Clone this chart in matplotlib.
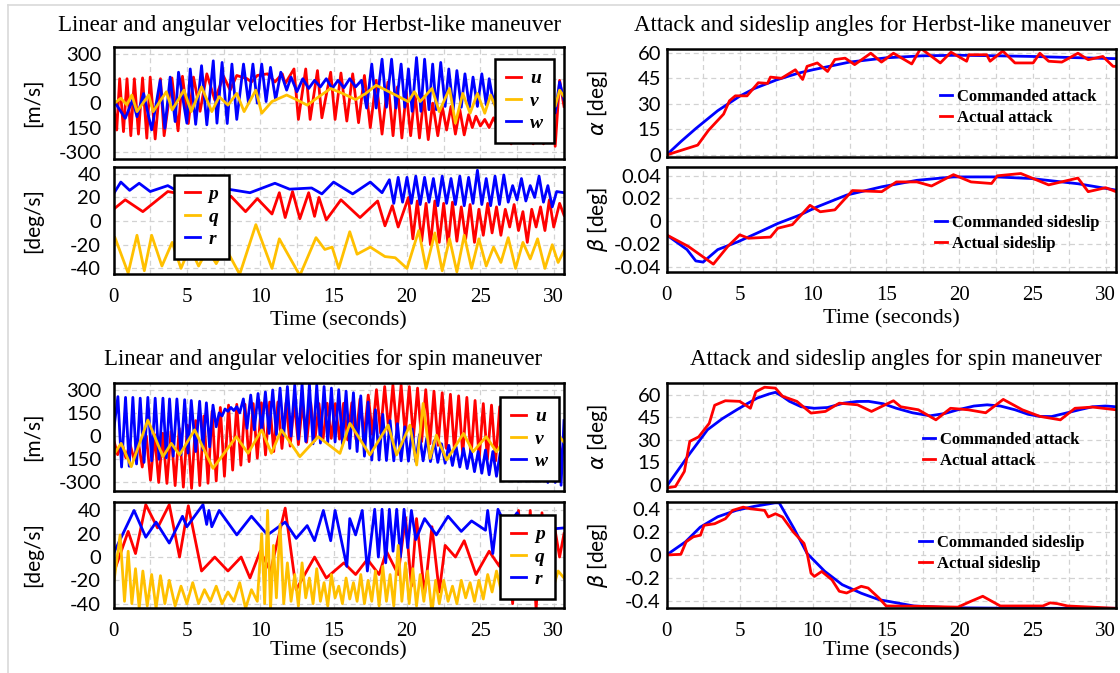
import matplotlib
matplotlib.use('Agg')
import matplotlib.pyplot as plt
from matplotlib.ticker import MultipleLocator
from matplotlib.lines import Line2D

# ---------------- Herbst-like maneuver: linear velocities [m/s] ----------------
U_H_T = [0, 0.22, 0.42, 0.68, 0.92, 1.18, 1.42, 1.7, 1.98, 2.27, 2.5, 2.84, 3.2, 3.45, 3.98, 4.4, 4.7, 5.1, 5.45, 5.9,
         6.36, 6.9, 7.5, 7.95, 8.4, 9.1, 9.4, 9.8, 10.5, 11.0, 11.5, 11.7, 12.3, 12.6, 13.1, 13.4, 13.9, 14.2, 14.8, 15.1,
         15.5, 15.9, 16.3, 16.7, 17.1, 17.5, 17.9, 18.3, 18.7, 19.05, 19.35, 19.65, 19.95, 20.25, 20.55, 20.85, 21.15,
         21.45, 21.75, 22.1, 22.4, 22.7, 23.0, 23.3, 23.6, 23.9, 24.2, 24.45, 24.7, 25.0, 25.3, 25.6, 25.9, 26.3, 26.7,
         27.1, 27.5, 28.0, 28.3, 28.6, 28.9, 29.3, 29.8, 30.1, 30.4, 30.7]
U_H_V = [0, -165, 150, -175, 150, -200, 150, -190, 155, -215, 160, -220, 150, -200, 155, -170, 165, -125, 160, -50,
         180, 20, 165, 80, 170, 150, 130, 170, 180, 130, 180, 120, 210, -100, 210, -100, 200, -90, 190, -100,
         185, -110, 180, -120, 170, -150, 140, -190, 130, -200, 100, -214, 70, -200, 60, -214, 40,
         -224, 0, -200, -20, -165, -20, -190, -40, -195, -70, -150, -80, -140, -100, -150, -90, -165, -60,
         -250, -40, -220, -60, -250, -60, -250, 30, -265, 140, -20]

V_H_T = [0, 0.5, 0.9, 1.25, 1.6, 2.4, 2.7, 3.6, 4.0, 4.8, 5.3, 6.0, 6.7, 7.2, 7.8, 8.4, 8.9, 9.7, 10.1, 10.8, 11.8,
         12.5, 13.2, 14.0, 14.8, 15.6, 16.5, 17.2, 17.9, 19.0, 20.1, 20.5, 20.9, 21.7, 22.2, 22.9, 23.3, 23.8, 24.3,
         24.8, 25.3, 25.7, 26.2, 26.7, 27.2, 27.7, 28.2, 28.7, 29.2, 29.7, 30.1, 30.4, 30.7]
V_H_V = [-5, 30, -10, 50, -52, 50, -52, 70, -42, 80, -52, 100, -52, 40, -12, 60, -52, 80, -62, 10, 50,
         20, -12, 40, 90, 60, 22, 60, 110, 60, 9, 70, 10, 90, -52, 90, -123, 60, -62,
         60, -62, 50, -60, 50, -60, 50, -60, 50, -60, 40, -20, 80, 40]

W_H_T = [0, 0.8, 1.3, 1.6, 2.05, 2.6, 3.18, 3.5, 3.86, 4.2, 4.43, 5.0, 5.23, 5.6, 6.0, 6.36, 6.8, 7.05, 7.4, 7.75,
         8.07, 8.4, 8.86, 9.2, 9.5, 9.8, 10.1, 10.4, 10.7, 11.05, 11.4, 11.8, 12.1, 12.5, 12.9, 13.3, 13.7, 14.1, 14.5,
         14.9, 15.3, 15.7, 16.1, 16.5, 16.9, 17.25, 17.6, 17.9, 18.3, 18.6, 18.95, 19.25, 19.6, 19.85, 20.1, 20.35,
         20.65, 20.95, 21.2, 21.5, 21.75, 22.0, 22.3, 22.6, 22.85, 23.15, 23.4, 23.7, 23.95, 24.25, 24.5, 24.8, 25.1,
         25.4, 25.6, 25.9, 26.2, 26.5, 26.8, 27.1, 27.4, 27.7, 28.0, 28.3, 28.6, 28.9, 29.2, 29.5, 29.8, 30.1, 30.4, 30.7]
W_H_V = [18, -93, 20, -83, 59, -164, 139, -154, 160, -113, 190, -123, 210, -130, 230, -133, 260, -123, 250, -125,
         240, -100, 240, 0, 240, 0, 240, 10, 220, 20, 190, 80, 160, 70, 150, 90, 140, 100, 150,
         90, 140, 95, 150, 100, 140, -30, 240, -30, 270, -25, 270, -30, 240, -25, 210, -50,
         280, -50, 270, -40, 240, -40, 250, -20, 210, -40, 200, -25, 180, -25, 160, -20, 180,
         -10, 150, 0, 130, 10, 120, 0, 130, -10, 120, 0, 110, -20, 100, -30, 100, -60, 130, 20]

# ---------------- Herbst-like maneuver: angular velocities [deg/s] ----------------
P_H_T = [0, 0.8, 2.0, 3.7, 5.0, 6.0, 7.0, 8.0, 9.0, 9.8, 10.8, 11.3, 11.7, 12.2, 12.7, 13.3, 13.7, 14.0, 14.5, 15.5,
         16.8, 18.0, 18.5, 19.0, 19.4, 20.1, 20.4, 20.7, 21.0, 21.3, 21.6, 21.9, 22.2, 22.5, 22.8, 23.1, 23.4, 23.7,
         24.0, 24.3, 24.6, 24.9, 25.2, 25.5, 25.8, 26.1, 26.4, 26.7, 27.0, 27.3, 27.6, 27.9, 28.2, 28.5, 28.8, 29.1,
         29.4, 29.7, 30.0, 30.4, 30.7]
P_H_V = [10, 18, 8, 25, 22, 18, 15, 21, 8, 19, 6, 24, 3, 25, 2, 24, 4, 20, 1, 18,
         3, 17, -4, 13, -5, 20, -15, 17, -17, 15, -20, 17, -18, 15, -20, 16, -17, 12,
         -15, 14, -18, 10, -12, 15, -10, 12, -12, 10, -5, 14, -8, 8, -18, 10, -5, 12,
         -8, 18, -5, 15, 5]

Q_H_T = [0.1, 1.0, 1.6, 2.1, 2.6, 3.3, 4.0, 4.6, 5.2, 5.8, 6.4, 7.0, 7.6, 8.6, 9.7, 10.8, 11.3, 11.7, 12.7, 13.8,
         14.4, 14.9, 15.35, 16.1, 16.6, 17.5, 18.5, 19.2, 20.0, 20.8, 21.3, 21.9, 22.4, 22.9, 23.4, 23.9, 24.4, 24.9,
         25.4, 25.9, 26.4, 26.9, 27.4, 27.9, 28.4, 28.9, 29.4, 29.9, 30.3, 30.7]
Q_H_V = [-14, -44, -12, -42, -12, -38, -18, -40, -22, -38, -24, -36, -22, -45, -3, -40, -15, -24, -46, -14,
         -24, -22, -40, -9, -28, -22, -30, -31, -40, -8, -40, -10, -42, -15, -43, -12, -40, -15,
         -38, -22, -35, -14, -40, -18, -32, -15, -40, -20, -35, -25]

R_H_T = [0, 0.5, 1.1, 1.75, 2.5, 3.7, 4.4, 5.5, 6.1, 7.0, 7.8, 9.3, 11.0, 12.0, 13.5, 14.2, 15.0, 16.3, 17.5, 18.3,
         18.8, 19.1, 19.4, 19.7, 20.0, 20.3, 20.6, 20.9, 21.2, 21.5, 21.8, 22.1, 22.4, 22.7, 23.0, 23.3, 23.6, 23.9,
         24.2, 24.5, 24.8, 25.1, 25.4, 25.7, 26.0, 26.3, 26.6, 26.9, 27.2, 27.5, 27.8, 28.1, 28.4, 28.7, 29.0, 29.3,
         29.6, 29.9, 30.2, 30.7]
R_H_V = [23, 33, 26, 32, 25, 30, 25, 32, 35, 28, 27, 24, 32, 27, 28, 23, 33, 23, 33, 24,
         35, 15, 37, 16, 37, 15, 38, 14, 37, 16, 36, 13, 38, 15, 36, 14, 38, 13,
         37, 15, 43, 14, 36, 13, 38, 14, 39, 16, 30, 18, 36, 17, 30, 20, 38, 16,
         30, 12, 25, 24]

# ---------------- Herbst-like maneuver: attack / sideslip [deg] ----------------
ALC_H_T = [0, 1, 2, 2.5, 3.5, 5, 6, 7.5, 9, 10, 12.5, 15, 17.5, 20, 22.5, 25, 27.5, 30.7]
ALC_H_V = [0, 8, 15.5, 19, 26, 34.5, 39, 44, 48, 50, 54.5, 57, 58.2, 58.5, 58.2, 57.8, 57.2, 56.5]
ALA_H_T = [0, 2.13, 2.87, 3.9, 4.3, 4.7, 5.5, 6.27, 6.9, 7.1, 7.85, 8.8, 9.3, 9.6, 10.3, 11.0, 11.5, 12.2, 12.85,
           13.95, 14.68, 15.5, 16.75, 17.36, 18.7, 19.43, 20.5, 20.65, 21.87, 22.1, 22.97, 23.8, 25.04, 25.5, 26.1,
           27.0, 28.1, 28.8, 29.8, 30.5, 30.7]
ALA_H_V = [0, 5.8, 14.5, 24, 31.8, 34.7, 34.7, 42.4, 42, 45.7, 45, 50, 44.3, 52, 54, 49, 56, 56.8, 53,
           59.7, 54.5, 59.7, 53.4, 62.6, 54, 60.3, 55, 58.8, 58.8, 55, 61, 54, 54, 59.7, 55,
           54.5, 59.7, 55.9, 57.8, 52, 52]
BEC_H_T = [0, 1.4, 2.0, 2.5, 3.5, 4.9, 6.4, 7.6, 9.1, 10.3, 12.3, 14.7, 17.1, 19.6, 22.5, 24.9, 28.1, 30.7]
BEC_H_V = [-0.012, -0.025, -0.035, -0.036, -0.025, -0.018, -0.0092, -0.002, 0.0054, 0.0127, 0.023, 0.0303, 0.036,
           0.039, 0.039, 0.0376, 0.033, 0.0274]
BEA_H_T = [0, 1.5, 3.2, 4.2, 5.0, 5.6, 7.1, 7.6, 8.6, 9.8, 10.5, 11.5, 12.7, 14.7, 15.7, 17.1, 18.1, 19.6, 20.8, 22.2,
           22.6, 24.2, 26.1, 28.1, 28.8, 30.0, 30.7]
BEA_H_V = [-0.012, -0.0223, -0.0378, -0.022, -0.012, -0.015, -0.014, -0.0062, -0.003, 0.014, 0.0083, 0.01, 0.027,
           0.026, 0.0346, 0.0346, 0.031, 0.041, 0.0346, 0.0332, 0.040, 0.042, 0.032, 0.038, 0.026, 0.0295, 0.026]

# ---------------- Spin maneuver: linear velocities [m/s] ----------------
U_S_T = [0, 0.28, 0.56, 0.84, 1.12, 1.4, 1.68, 1.96, 2.24, 2.52, 2.8, 3.08, 3.36, 3.64, 3.92, 4.2, 4.48, 4.76, 5.04,
         5.32, 5.6, 5.88, 6.16, 6.44, 6.72, 7.0, 7.28, 7.56, 7.84, 8.12, 8.4, 8.68, 8.96, 9.24, 9.52, 9.8, 10.08,
         10.36, 10.64, 10.92, 11.2, 11.48, 11.76, 12.04, 12.32, 12.6, 12.88, 13.16, 13.44, 13.72, 14.0, 14.28, 14.56,
         14.84, 15.12, 15.4, 15.68, 15.96, 16.24, 16.52, 16.8, 17.08, 17.36, 17.64, 17.92, 18.2, 18.48, 18.76, 19.04,
         19.32, 19.6, 19.88, 20.16, 20.44, 20.72, 21.0, 21.28, 21.56, 21.84, 22.12, 22.4, 22.68, 22.96, 23.24, 23.52,
         23.8, 24.08, 24.36, 24.64, 24.92, 25.2, 25.48, 25.76, 26.04, 26.32, 26.6, 26.88, 27.16, 27.44, 27.72, 28.0,
         28.28, 28.56, 28.84, 29.12, 29.4, 29.68, 29.96, 30.24, 30.5, 30.7]
U_S_V = [-20, -120, -40, -140, -50, -150, -30, -200, 0, -285, 10, -300, 18, -306, 30, -320, 50, -330, 70,
         -338, 100, -320, 130, -305, 160, -290, 185, -260, 200, -220, 205, -188, 205, -165, 210, -143, 215,
         -122, 220, -100, 220, -80, 215, -65, 220, -55, 210, -40, 215, -30, 210, -20, 212,
         -15, 210, -20, 212, -25, 215, -20, 240, 0, 265, 10, 300, 20, 320, 29, 330,
         25, 330, 10, 320, -10, 310, -36, 300, -50, 290, -60, 280, -80, 270, -100, 260,
         -120, 250, -135, 230, -150, 210, -150, 200, -160, 190, -170, 180, -180, 160, -190, 150,
         -200, 140, -210, 120, -200, 100, -190, 50, -130, -60]

V_S_T = [0, 0.52, 1.21, 2.34, 3.37, 3.94, 4.5, 5.53, 6.78, 8.37, 9.17, 10.1, 10.76, 11.44, 12.7, 13.95, 15.43, 16.11,
         17.47, 18.72, 19.29, 20.2, 20.66, 21.1, 21.57, 22.0, 22.7, 23.85, 24.5, 25.4, 26.1, 26.8, 27.5, 28.2, 28.9,
         29.6, 30.1, 30.4, 30.7]
V_S_V = [-122, -47, -198, 104, -133, -47, -122, 40, -209, -4, -111, 40, -111, 40, -133, -4, -112, 82,
         -122, 71, -122, 71, -187, 211, -144, 6, -155, 17, -101, -4, -101, 0, -100, 0, -100,
         10, -80, -4, -40]

W_S_T = [0, 0.3, 0.55, 0.82, 1.07, 1.32, 1.57, 1.82, 2.08, 2.34, 2.6, 2.84, 3.1, 3.37, 3.6, 3.82, 4.07, 4.32, 4.6,
         4.85, 5.08, 5.3, 5.6, 5.87, 6.1, 6.33, 6.55, 6.78, 7.0, 7.2, 7.4, 7.6, 7.8, 8.0, 8.2, 8.4, 8.6, 8.85, 9.1,
         9.35, 9.6, 9.85, 10.1, 10.35, 10.6, 10.85, 11.1, 11.35, 11.6, 11.85, 12.1, 12.35, 12.6, 12.85, 13.1, 13.35,
         13.6, 13.85, 14.1, 14.35, 14.6, 14.85, 15.1, 15.35, 15.6, 15.85, 16.1, 16.35, 16.6, 16.85, 17.1, 17.35,
         17.6, 17.85, 18.1, 18.35, 18.6, 18.85, 19.1, 19.35, 19.6, 19.85, 20.1, 20.35, 20.6, 20.85, 21.1, 21.35,
         21.6, 21.85, 22.1, 22.35, 22.6, 22.85, 23.1, 23.35, 23.6, 23.85, 24.1, 24.35, 24.6, 24.85, 25.1, 25.35,
         25.6, 25.85, 26.1, 26.35, 26.6, 26.85, 27.1, 27.35, 27.6, 27.85, 28.1, 28.35, 28.6, 28.85, 29.1, 29.35,
         29.6, 29.85, 30.1, 30.3, 30.5, 30.7]
W_S_V = [30, 255, -200, 250, -195, 250, -180, 245, -170, 250, -160, 245, -150, 245, -140, 240, -130, 240, -120,
         235, -110, 230, -100, 225, -90, 215, -70, 200, 60, 150, 130, 175, 160, 185, 165, 190, 150, 240, 50,
         265, 40, 275, 30, 285, 17, 298, 10, 310, 5, 320, 0, 330, -20, 340, -35, 335,
         -50, 330, -45, 320, -40, 310, -38, 300, -50, 290, -80, 280, -100, 260, -130, 220,
         -155, 170, -155, 140, -158, 100, -160, 80, -160, 60, -162, 45, -165, 10, -160, -13,
         -165, -30, -170, -50, -175, -60, -190, -70, -200, -80, -210, -90, -230, -100, -240, -90,
         -250, -100, -260, -110, -270, -120, -280, -130, -290, -140, -290, -150, -290, -150, -290, -140,
         -300, -100, -300, 220, -318, 100]

# ---------------- Spin maneuver: angular velocities [deg/s] ----------------
P_S_T = [0, 1.0, 1.5, 2.2, 3.0, 3.8, 4.5, 5.1, 6.0, 6.9, 7.8, 8.7, 9.3, 10.0, 10.7, 11.7, 12.45, 13.7, 14.5, 15.7,
         16.5, 17.3, 18.1, 18.6, 19.4, 19.9, 20.3, 20.65, 21.2, 21.7, 22.2, 22.6, 23.3, 23.9, 24.7, 25.6, 26.3, 26.8,
         27.2, 27.6, 28.0, 28.4, 28.8, 29.2, 29.6, 30.0, 30.4, 30.7]
P_S_V = [-14, 22, 3, 45, 25, 45, 0, 44, -12, 0, -12, 0, -18, 5, -12, 42, -28, 0, -18, -5,
         -15, -2, -15, 5, -15, 34, -25, 33, -32, 26, -30, 10, 0, 14, -15, 5, -8, 30,
         -40, 40, -30, 40, -45, 38, -30, 30, 0, 20]

Q_S_T = [0, 0.45, 0.75, 1.0, 1.25, 1.5, 1.75, 2.0, 2.3, 2.6, 2.9, 3.2, 3.5, 3.8, 4.2, 4.6, 5.0, 5.4, 5.8, 6.2, 6.6,
         7.0, 7.4, 7.8, 8.2, 8.6, 9.0, 9.4, 9.8, 10.1, 10.3, 10.5, 10.7, 10.9, 11.1, 11.35, 11.6, 11.85, 12.1, 12.35,
         12.6, 12.85, 13.1, 13.35, 13.6, 13.85, 14.1, 14.35, 14.6, 14.85, 15.1, 15.35, 15.6, 15.85, 16.1, 16.35,
         16.6, 16.85, 17.1, 17.35, 17.6, 17.85, 18.1, 18.35, 18.6, 18.85, 19.1, 19.4, 19.65, 19.9, 20.15, 20.4,
         20.65, 20.9, 21.15, 21.4, 21.7, 21.95, 22.2, 22.5, 22.8, 23.1, 23.4, 23.7, 24.0, 24.3, 24.6, 24.9, 25.2,
         25.5, 25.8, 26.1, 26.4, 26.7, 27.0, 27.3, 27.6, 27.9, 28.2, 28.5, 28.8, 29.1, 29.4, 29.7, 30.0, 30.3, 30.7]
Q_S_V = [-24, 19, -38, 5, -40, -10, -44, -12, -42, -15, -44, -16, -40, -20, -42, -25, -40, -22, -40, -28, -38,
         -25, -40, -30, -38, -22, -44, -28, -38, 20, -40, 40, -45, 10, -35, 28, -40, -5, -38, -15,
         -42, -5, -35, -18, -40, -10, -38, -22, -42, -15, -35, -25, -40, -18, -36, -22,
         -38, -15, -40, -20, -38, -12, -42, -8, -38, -15, -42, 10, -38, -5, -40, -10,
         -42, -15, -38, -12, -48, -20, -40, -20, -38, -25, -40, -20, -35, -22, -38, -20, -36,
         -15, -30, -12, -28, -14, -30, -12, -30, -15, -32, -14, -30, -16, -28, -14, -25, -12, -18]

R_S_T = [0, 1.4, 2.2, 2.9, 3.8, 4.7, 5.0, 6.1, 6.35, 6.5, 6.7, 7.2, 8.4, 9.4, 10.5, 11.7, 12.45, 13.2, 13.7, 14.3,
         14.8, 15.1, 15.9, 16.1, 16.5, 16.95, 17.3, 17.8, 18.05, 18.3, 18.55, 18.8, 19.05, 19.3, 19.55, 19.8, 20.05,
         20.3, 20.6, 21.2, 22.0, 22.8, 23.7, 24.4, 25.35, 25.5, 25.85, 26.2, 26.8, 27.5, 28.3, 29.0, 29.8, 30.7]
R_S_V = [3, 40, 17, 30, 12, 35, 26, 45, 28, 40, 26, 40, 19, 35, 19, 30, 16, 27, 14, 40,
         14, 40, -8, 33, 19, 40, -12, 41, 0, 41, -5, 41, 5, 41, 0, 41, 8,
         40, 15, 33, 19, 35, 22, 31, 23, 40, 3, 41, 25, 38, 22, 35, 24, 25]

# ---------------- Spin maneuver: attack / sideslip [deg] ----------------
ALC_S_T = [0, 0.8, 1.6, 2.8, 3.8, 4.8, 5.5, 6.2, 7.0, 7.44, 7.9, 8.4, 9.2, 10.1, 11.0, 12.1, 13.0, 13.8, 14.8, 15.7,
           16.8, 18.0, 19.0, 19.9, 21.0, 21.9, 22.8, 23.8, 24.7, 25.5, 26.3, 27.2, 28.2, 29.1, 30.0, 30.7]
ALC_S_V = [-1, 10, 21, 36.7, 44, 50, 54, 57.8, 60.5, 61.6, 59, 55.6, 52, 51, 51.5, 54.4, 55.5, 55.6, 54, 51,
           48, 46, 47.5, 50, 52.5, 53.3, 52.5, 50, 47, 45.6, 45.5, 47.6, 50, 52, 52.5, 52]
ALA_S_T = [0, 0.61, 1.22, 1.59, 2.2, 2.92, 3.29, 4.02, 5.0, 5.73, 6.1, 6.7, 7.44, 7.92, 8.9, 9.87, 10.85, 11.8, 13.05,
           14.0, 15.5, 16.0, 17.2, 18.4, 19.4, 20.6, 21.8, 23.0, 24.3, 25.5, 26.9, 27.9, 29.1, 30.7]
ALA_S_V = [-2, -1, 9, 29, 32, 41, 53, 56, 55.6, 51, 62, 65, 64.4, 59, 55.6, 47.8, 48.9, 54.4, 53.3,
           48.9, 56, 52, 50, 43.3, 51, 50, 48, 56.9, 50, 45.6, 43.3, 51, 51.8, 50]
BEC_S_T = [0, 1.3, 2.3, 3.5, 4.75, 6.0, 7.4, 7.7, 8.7, 9.6, 10.8, 12.0, 13.3, 14.5, 16.9, 19.4, 24.0, 30.7]
BEC_S_V = [0, 0.114, 0.24, 0.33, 0.385, 0.42, 0.45, 0.45, 0.23, 0.014, -0.14, -0.256, -0.33, -0.385, -0.44, -0.455,
           -0.46, -0.46]
BEA_S_T = [0, 0.98, 1.34, 1.83, 2.32, 2.56, 3.29, 4.02, 4.51, 5.24, 5.73, 6.7, 6.95, 7.44, 7.92, 8.66, 9.39, 9.63,
           9.87, 10.1, 10.6, 11.3, 11.8, 12.3, 13.3, 13.77, 14.5, 15.0, 16.9, 19.9, 20.8, 21.6, 22.8, 25.7, 26.2, 26.7,
           27.4, 30.7]
BEA_S_V = [0, 0.006, 0.114, 0.157, 0.171, 0.256, 0.27, 0.313, 0.385, 0.413, 0.399, 0.385, 0.328, 0.356, 0.328, 0.199,
           0.1, 0.0, -0.157, -0.185, -0.142, -0.214, -0.313, -0.328, -0.27, -0.285, -0.37, -0.44, -0.442, -0.45,
           -0.399, -0.356, -0.44, -0.44, -0.413, -0.42, -0.44, -0.46]

XTICKS = [0, 5, 10, 15, 20, 25, 30]
RED, BLUE, GOLD = '#ff0000', '#0000ff', '#ffc000'

W, H = 1120, 673
fig = plt.figure(figsize=(11.2, 6.73), dpi=100)
fig.patch.set_facecolor('white')


def add_ax(x0, y0, x1, y1):
    return fig.add_axes([x0 / W, 1 - y1 / H, (x1 - x0) / W, (y1 - y0) / H])


def style(ax, ylim, yt, ytl, show_x, ypad):
    ax.set_xlim(0, 30.7)
    ax.set_ylim(*ylim)
    ax.set_xticks(XTICKS)
    ax.xaxis.set_minor_locator(MultipleLocator(2.5))
    ax.set_yticks(yt)
    ax.set_yticklabels(ytl, fontfamily='Lato', fontsize=14.5)
    if show_x:
        ax.set_xticklabels([str(v) for v in XTICKS], fontfamily='Liberation Serif', fontsize=15)
    else:
        ax.set_xticklabels([])
    ax.tick_params(which='both', length=0)
    ax.tick_params(axis='x', pad=10)
    ax.tick_params(axis='y', pad=ypad)
    ax.grid(which='both', axis='x', color='#d2d2d2', linestyle=(0, (4, 3)), linewidth=0.9)
    ax.grid(which='major', axis='y', color='#d2d2d2', linestyle=(0, (4, 3)), linewidth=0.9)
    ax.set_axisbelow(True)
    for s in ax.spines.values():
        s.set_linewidth(1.8)
        s.set_color('black')


def xlabel(ax, pad):
    ax.set_xlabel('Time (seconds)', fontfamily='Liberation Serif', fontsize=16, labelpad=pad)


LW = 2.0
box_prop = {'family': 'Liberation Serif', 'weight': 'bold', 'style': 'italic', 'size': 14}
txt_prop = {'family': 'Liberation Serif', 'weight': 'bold', 'size': 12}


def box_legend(ax, handles, labels, anchor):
    leg = ax.legend(handles, labels, loc='upper left', bbox_to_anchor=anchor, borderaxespad=0,
                    frameon=True, fancybox=False, edgecolor='black', framealpha=1,
                    handlelength=0.8, handletextpad=0.45, labelspacing=0.25, borderpad=0.55, prop=box_prop)
    leg.get_frame().set_linewidth(1.8)


def plain_legend(ax, handles, labels, anchor):
    ax.legend(handles, labels, loc='upper left', bbox_to_anchor=anchor, borderaxespad=0, frameon=False,
              handlelength=0.75, handletextpad=0.3, labelspacing=0.3, borderpad=0, prop=txt_prop)


def lin_panel(box, T1, V1, T2, V2, T3, V3, ylim, legend_anchor, show_x):
    ax = add_ax(*box)
    l1, = ax.plot(T1, V1, color=RED, lw=LW, solid_joinstyle='round')
    l3, = ax.plot(T3, V3, color=BLUE, lw=LW, solid_joinstyle='round')
    l2, = ax.plot(T2, V2, color=GOLD, lw=LW, solid_joinstyle='round')
    style(ax, ylim, [300, 150, 0, -150, -300], ['300', '150', '0', '150', '-300'], show_x, 9)
    ax.set_ylabel('[m/s]', fontfamily='Lato', fontsize=15)
    ax.yaxis.set_label_coords(-0.156, 0.5)
    box_legend(ax, [l1, l2, l3], ['u', 'v', 'w'], legend_anchor)
    return ax


def ang_panel(box, T1, V1, T2, V2, T3, V3, ylim, legend_anchor, xpad):
    ax = add_ax(*box)
    l1, = ax.plot(T1, V1, color=RED, lw=LW, solid_joinstyle='round')
    l3, = ax.plot(T3, V3, color=BLUE, lw=LW, solid_joinstyle='round')
    l2, = ax.plot(T2, V2, color=GOLD, lw=LW, solid_joinstyle='round')
    style(ax, ylim, [40, 20, 0, -20, -40], ['40', '20', '0', '-20', '-40'], True, 9)
    ax.set_ylabel('[deg/s]', fontfamily='Lato', fontsize=15)
    ax.yaxis.set_label_coords(-0.156, 0.5)
    box_legend(ax, [l1, l2, l3], ['p', 'q', 'r'], legend_anchor)
    xlabel(ax, xpad)
    return ax


def angle_panel(box, TC, VC, TA, VA, ylim, yt, ytl, ylab, labels, anchor, show_x, xpad=0):
    ax = add_ax(*box)
    lc, = ax.plot(TC, VC, color=BLUE, lw=LW, solid_joinstyle='round')
    la, = ax.plot(TA, VA, color=RED, lw=LW, solid_joinstyle='round')
    style(ax, ylim, yt, ytl, show_x, 4)
    ax.set_ylabel(ylab, fontfamily='Lato', fontsize=15)
    ax.yaxis.set_label_coords(-0.126, 0.5)
    plain_legend(ax, [lc, la], labels, anchor)
    if show_x:
        xlabel(ax, xpad)
    return ax


# ---- Herbst-like maneuver ----
lin_panel((113.5, 47.3, 564, 159), U_H_T, U_H_V, V_H_T, V_H_V, W_H_T, W_H_V, (-343, 343), (0.847, 0.895), False)
ang_panel((113.5, 166.7, 564, 274.3), P_H_T, P_H_V, Q_H_T, Q_H_V, R_H_T, R_H_V, (-45, 46), (0.134, 0.923), 3)
angle_panel((666.5, 49.3, 1116, 156.7), ALC_H_T, ALC_H_V, ALA_H_T, ALA_H_V, (-1, 62), [0, 15, 30, 45, 60],
            ['0', '15', '30', '45', '60'], r'$\alpha$ [deg]', ['Commanded attack', 'Actual attack'],
            (0.608, 0.63), False)
angle_panel((666.5, 166.7, 1116, 272.3), BEC_H_T, BEC_H_V, BEA_H_T, BEA_H_V, (-0.045, 0.048),
            [0.04, 0.02, 0, -0.02, -0.04], ['0.04', '0.02', '0', '-0.02', '-0.04'], r'$\beta$ [deg]',
            ['Commanded sideslip', 'Actual sideslip'], (0.597, 0.543), True, 3)

# ---- Spin maneuver ----
lin_panel((113.5, 383, 564, 491), U_S_T, U_S_V, V_S_T, V_S_V, W_S_T, W_S_V, (-355, 343), (0.858, 0.870), False)
ang_panel((113.5, 501.7, 564, 608.3), P_S_T, P_S_V, Q_S_T, Q_S_V, R_S_T, R_S_V, (-44, 47.5), (0.858, 0.875), 0)
angle_panel((666.5, 382.7, 1116, 491), ALC_S_T, ALC_S_V, ALA_S_T, ALA_S_V, (-4, 68), [0, 15, 30, 45, 60],
            ['0', '15', '30', '45', '60'], r'$\alpha$ [deg]', ['Commanded attack', 'Actual attack'],
            (0.57, 0.545), False)
angle_panel((666.5, 501.7, 1116, 608.3), BEC_S_T, BEC_S_V, BEA_S_T, BEA_S_V, (-0.46, 0.46),
            [0.4, 0.2, 0, -0.2, -0.4], ['0.4', '0.2', '0', '-0.2', '-0.4'], r'$\beta$ [deg]',
            ['Commanded sideslip', 'Actual sideslip'], (0.562, 0.688), True, 0)

# ---- titles ----
tkw = dict(fontfamily='Liberation Serif', fontsize=16.5, ha='center', va='center')
fig.text(310 / W, 1 - 25 / H, 'Linear and angular velocities for Herbst-like maneuver', **tkw)
fig.text(872 / W, 1 - 25 / H, 'Attack and sideslip angles for Herbst-like maneuver', **tkw)
fig.text(323 / W, 1 - 360 / H, 'Linear and angular velocities for spin maneuver', **tkw)
fig.text(896 / W, 1 - 360 / H, 'Attack and sideslip angles for spin maneuver', **tkw)

# light page frame of the screenshot
fig.add_artist(Line2D([8 / W, 8 / W], [0, 1 - 5 / H], color='#d9d9d9', lw=1.2))
fig.add_artist(Line2D([8 / W, 1], [1 - 5 / H, 1 - 5 / H], color='#d9d9d9', lw=1.2))

fig.savefig('out.png', dpi=100)
